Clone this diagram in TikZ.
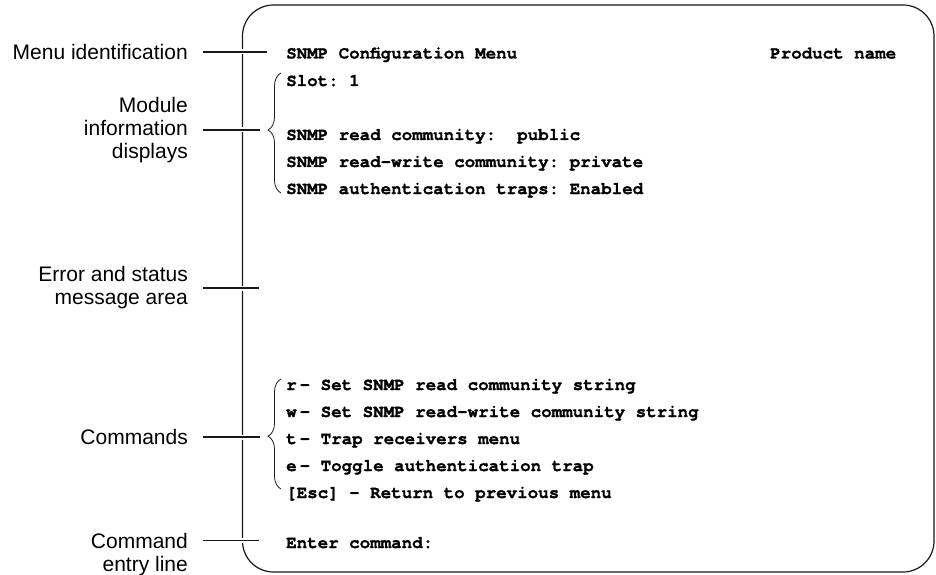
\documentclass[tikz,border=0pt]{standalone}
\usepackage{fontspec}
\setmainfont{Liberation Sans}
\newfontfamily\monofnt[BoldFeatures={FakeBold=1.2}]{TeX Gyre Cursor}
\usetikzlibrary{decorations.pathreplacing}
\begin{document}
\frenchspacing
\begin{tikzpicture}[x=1pt,y=1pt,
  lbl/.style={font=\fontsize{21}{23}\selectfont, align=right, inner sep=0pt, anchor=east},
  scr/.style={font=\monofnt\bfseries\fontsize{17.5}{20}\selectfont\frenchspacing, inner sep=0pt, anchor=base west},
  leader/.style={draw=black!90, line width=1.2pt, preaction={draw=white, line width=5pt}},
  screenframe/.style={draw=black!90, line width=1.2pt, rounded corners=31pt, inner sep=0pt, outer sep=0pt},
  brc/.style={draw=black!90, line width=0.8pt, decorate, decoration={brace, amplitude=13pt, aspect=#1}}]
\useasboundingbox (0,0) rectangle (936,574);

% screen frame
\node[screenframe, minimum width=691.5pt, minimum height=567pt] (screen) at (588.25,285.5) {};

% screen text
\node[scr] (tTitle) at (286,515.5) {SNMP Configuration Menu};
\node[scr] (tProd) at (770,515.5) {Product name};
\node[scr] (tSlot) at (286,488) {Slot: 1};
\node[scr] (tRead) at (286,434) {SNMP read community:\ \ public};
\node[scr] (tRW) at (286,407) {SNMP read-write community: private};
\node[scr] (tAuth) at (286,380) {SNMP authentication traps: Enabled};
\node[scr] (cR) at (286,184) {r\hspace{3pt}- Set SNMP read community string};
\node[scr] (cW) at (286,157) {w\hspace{3pt}- Set SNMP read-write community string};
\node[scr] (cT) at (286,130) {t\hspace{3pt}- Trap receivers menu};
\node[scr] (cE) at (286,103) {e\hspace{3pt}- Toggle authentication trap};
\node[scr] (cEsc) at (286,76) {[Esc] - Return to previous menu};
\node[scr] (cEnter) at (286,26) {Enter command:};

% braces
\coordinate (b1s) at (281,381);
\coordinate (b1e) at (281,501);
\draw[brc=0.525] (b1s) -- (b1e);
\coordinate (b2s) at (281,85);
\coordinate (b2e) at (281,195);
\draw[brc=0.48] (b2s) -- (b2e);

% labels
\node[lbl] (lMenu) at (188,522) {Menu identification};
\node[lbl] (lMod) at (188,444) {Module\\information\\displays};
\node[lbl] (lErr) at (188,286) {Error and status\\message area};
\node[lbl] (lCmd) at (188,137) {Commands};
\node[lbl, anchor=north east] (lEnt) at (188,41.3) {Command\\entry line};

% leader end points
\coordinate (eMenu) at (267,522);
\coordinate (eMod) at (260,444);
\coordinate (eErr) at (259,286);
\coordinate (eCmd) at (260,137);
\coordinate (eEnt) at (259,33.5);

% leaders
\draw[leader] (lMenu.east) ++(15,0) -- (eMenu);
\draw[leader] (lMod.east) ++(15,0) -- (eMod);
\draw[leader] (lErr.east) ++(15,0) -- (eErr);
\draw[leader] (lCmd.east) ++(15,0) -- (eCmd);
\draw[leader] (lEnt.north east) ++(15,-7.8) -- (eEnt);
\end{tikzpicture}
\end{document}
